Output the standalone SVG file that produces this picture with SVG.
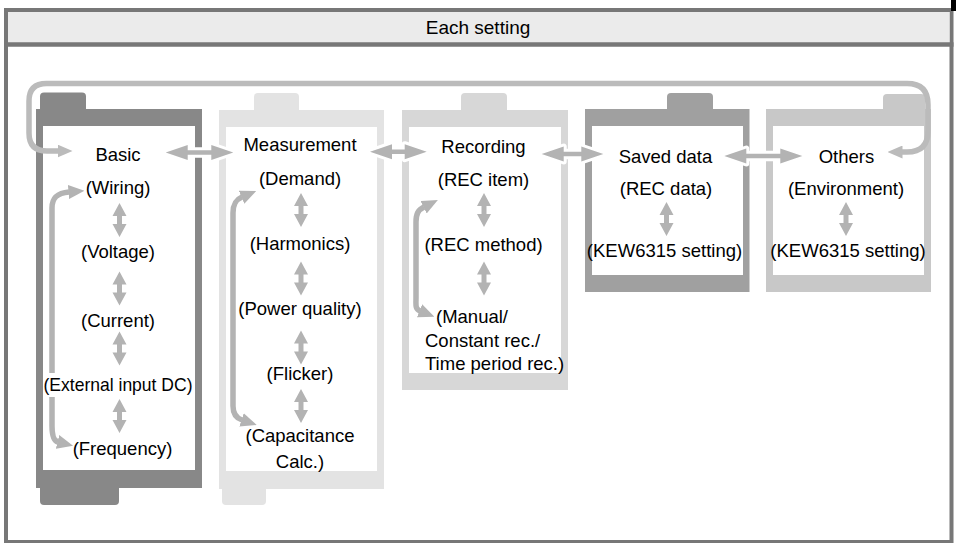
<svg xmlns="http://www.w3.org/2000/svg" xmlns:xlink="http://www.w3.org/1999/xlink" width="956" height="543" viewBox="0 0 956 543">
<style>
.t{font-family:"Liberation Sans",Arial,sans-serif;font-size:18.5px;fill:#000;text-anchor:middle}
.tl{font-family:"Liberation Sans",Arial,sans-serif;font-size:18.5px;fill:#000;text-anchor:start}
.wh{fill:#fff}
.ha{fill:#b3b3b3;stroke:#fff;stroke-width:6;paint-order:stroke;stroke-linejoin:round}
.va{fill:#b3b3b3}
.br{fill:none;stroke:#b3b3b3;stroke-width:5.5;marker-start:url(#mh);marker-end:url(#mh)}
.loop{fill:none;stroke:#bbbbbb;stroke-width:5.5;marker-start:url(#ml);marker-end:url(#ml)}
</style>
<defs>
<marker id="mh" viewBox="0 -7 16 14" markerWidth="16" markerHeight="14" refX="0.5" refY="0" orient="auto-start-reverse" markerUnits="userSpaceOnUse">
<path d="M0,-7 L16,0 L0,7 Z" fill="#b3b3b3"/>
</marker>
<marker id="ml" viewBox="0 -6.5 15 13" markerWidth="15" markerHeight="13" refX="0.5" refY="0" orient="auto-start-reverse" markerUnits="userSpaceOnUse">
<path d="M0,-6.5 L15,0 L0,6.5 Z" fill="#bbbbbb"/>
</marker>
<path id="va" d="M0,-17 L7,-4 L2.5,-4 L2.5,4 L7,4 L0,17 L-7,4 L-2.5,4 L-2.5,-4 L-7,-4 Z"/>
</defs>
<rect x="0" y="0" width="956" height="543" fill="#fff"/>
<g id="frame">
<rect x="6" y="10" width="945.5" height="532" fill="#fff" stroke="#777" stroke-width="4"/>
<rect x="8" y="12" width="941.5" height="31" fill="#ebebeb"/>
<line x1="4" y1="44.5" x2="953.5" y2="44.5" stroke="#777" stroke-width="4.5"/>
<rect x="951" y="0" width="5" height="11" fill="#000"/>
<text class="t" x="478" y="33.5" style="font-size:19px">Each setting</text>
</g>
<g id="basic">
<rect x="40" y="92.5" width="46" height="24" rx="4" fill="#888"/>
<rect x="40" y="480" width="79" height="25" rx="4" fill="#888"/>
<rect x="36" y="109" width="166" height="379" fill="#888"/>
<rect class="wh" x="43" y="126" width="152" height="344"/>
<text class="t" x="118" y="160.5">Basic</text>
<text class="t" x="118" y="194">(Wiring)</text>
<text class="t" x="118" y="258">(Voltage)</text>
<text class="t" x="118" y="326.5">(Current)</text>
<text class="t" x="118" y="390.5" textLength="149" lengthAdjust="spacingAndGlyphs">(External input DC)</text>
<text class="t" x="122.5" y="455">(Frequency)</text>
</g>
<g id="measurement">
<rect x="254" y="93" width="45" height="24" rx="4" fill="#e3e3e3"/>
<rect x="222" y="481" width="44" height="24" rx="4" fill="#e3e3e3"/>
<rect x="219" y="110" width="165" height="379" fill="#e3e3e3"/>
<rect class="wh" x="226" y="127" width="151" height="344"/>
<text class="t" x="300" y="151">Measurement</text>
<text class="t" x="300" y="185">(Demand)</text>
<text class="t" x="300" y="250">(Harmonics)</text>
<text class="t" x="300" y="315">(Power quality)</text>
<text class="t" x="300" y="380">(Flicker)</text>
<text class="t" x="300" y="442">(Capacitance</text>
<text class="t" x="300" y="467.5">Calc.)</text>
</g>
<g id="recording">
<rect x="461" y="93" width="46" height="24" rx="4" fill="#d7d7d7"/>
<rect x="402" y="110" width="166" height="280" fill="#d7d7d7"/>
<rect class="wh" x="409" y="127" width="152" height="246"/>
<text class="t" x="483.5" y="152.5">Recording</text>
<text class="t" x="483.5" y="186">(REC item)</text>
<text class="t" x="483.5" y="251">(REC method)</text>
<text class="tl" x="436" y="323">(Manual/</text>
<text class="tl" x="425" y="346.5">Constant rec./</text>
<text class="tl" x="425" y="370">Time period rec.)</text>
</g>
<g id="saved-data">
<rect x="667" y="93" width="46" height="24" rx="4" fill="#a0a0a0"/>
<rect x="585" y="109" width="164.5" height="183" fill="#a0a0a0"/>
<rect class="wh" x="592" y="126" width="151" height="149"/>
<text class="t" x="665.5" y="162.5">Saved data</text>
<text class="t" x="666" y="194.5">(REC data)</text>
<text class="t" x="664.5" y="256.5">(KEW6315 setting)</text>
</g>
<g id="others">
<rect x="883" y="94" width="42" height="24" rx="4" fill="#c8c8c8"/>
<rect x="766" y="109" width="165" height="183" fill="#c8c8c8"/>
<rect class="wh" x="773" y="126" width="151" height="149"/>
<text class="t" x="846.5" y="162.5">Others</text>
<text class="t" x="846" y="194.5">(Environment)</text>
<text class="t" x="848" y="256.5">(KEW6315 setting)</text>
</g>
<g id="connectors">
<path class="loop" d="M58,151 L47,151 Q29,151 29,133 L29,101 Q29,83.5 46.5,83.5 L907,83.5 Q928,83.5 928,104.5 L928,131 Q928,152 907,152 L902,152"/>
<path class="ha" d="M165.7,152.5 L187.7,145 L187.7,150.2 L211.3,150.2 L211.3,145 L233.3,152.5 L211.3,160 L211.3,154.8 L187.7,154.8 L187.7,160 Z"/>
<path class="ha" d="M370,151.7 L392,144.2 L392,149.4 L404.7,149.4 L404.7,144.2 L426.7,151.7 L404.7,159.2 L404.7,154 L392,154 L392,159.2 Z"/>
<path class="ha" d="M541.7,154 L563.7,146.5 L563.7,151.7 L581.3,151.7 L581.3,146.5 L603.3,154 L581.3,161.5 L581.3,156.3 L563.7,156.3 L563.7,161.5 Z"/>
<path class="ha" d="M724.3,156 L746.3,148.5 L746.3,153.7 L780.3,153.7 L780.3,148.5 L802.3,156 L780.3,163.5 L780.3,158.3 L746.3,158.3 L746.3,163.5 Z"/>
<path class="br" d="M69,192 C57,193 52,198 52,208 L52,373 M52,397 L52,426 C52,436 54,441 58,442"/>
<path class="br" d="M242,197 C235,200 233,205 233,213 L233,406 C233,414 236,418 242,420"/>
<path class="br" d="M424,207 C418,210 416,214 416,222 L416,298 C416,305 415,309 420,311"/>
<use class="va" xlink:href="#va" x="119.5" y="220"/>
<use class="va" xlink:href="#va" x="119.5" y="288.5"/>
<use class="va" xlink:href="#va" x="119.5" y="348.5"/>
<use class="va" xlink:href="#va" x="119.5" y="416"/>
<use class="va" xlink:href="#va" x="301" y="210"/>
<use class="va" xlink:href="#va" x="301" y="278.5"/>
<use class="va" xlink:href="#va" x="301" y="347.5"/>
<use class="va" xlink:href="#va" x="301" y="406"/>
<use class="va" xlink:href="#va" x="484" y="210"/>
<use class="va" xlink:href="#va" x="484" y="278.5"/>
<use class="va" xlink:href="#va" x="666.5" y="219"/>
<use class="va" xlink:href="#va" x="846" y="219"/>
</g>
</svg>
